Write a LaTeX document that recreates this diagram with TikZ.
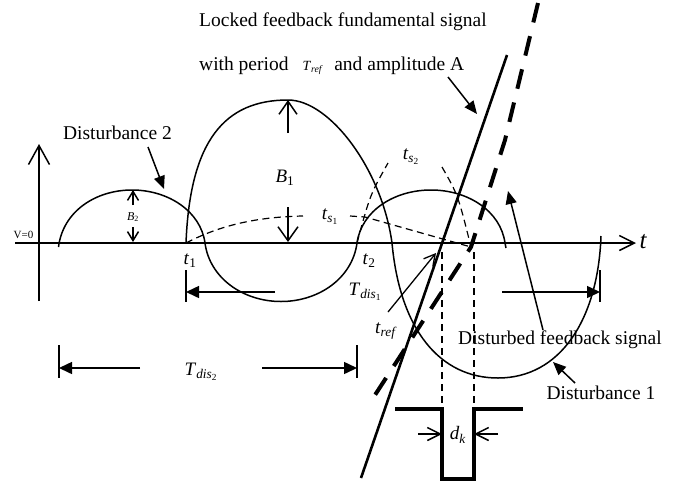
\documentclass[tikz,border=0pt]{standalone}
\usepackage{fontspec}
\setmainfont{Liberation Serif}
\usetikzlibrary{arrows.meta}

\tikzset{
  sig/.style={line width=1.5pt},
  hilf/.style={line width=1.2pt,dash pattern=on 7pt off 4.5pt},
  offen/.style={line width=1.5pt,-{Straight Barb[length=13pt,width=18pt]}},
  voll/.style={line width=1.5pt,-{Triangle[length=13pt,width=11pt]}},
  lbl/.style={font=\fontsize{19.5}{23}\selectfont,inner sep=0pt},
  var/.style={font=\fontsize{19}{19}\selectfont,inner sep=0pt}
}

\begin{document}
\begin{tikzpicture}[x=1pt,y=-1pt]
\useasboundingbox (0,0) rectangle (690,485);
% Achsen
\coordinate (Xa) at (15,243);
\coordinate (Xe) at (636,243);
\coordinate (Ya) at (39,301);
\coordinate (Ye) at (39,144);
\draw[sig,-{Straight Barb[length=15pt,width=15pt]}] (Xa) -- (Xe);
\draw[sig,-{Straight Barb[length=19pt,width=21pt]}] (Ya) -- (Ye);
% Nulldurchgaenge und Schnittpunkte
\coordinate (T1) at (186,243);
\coordinate (T2) at (357,243);
\coordinate (S1) at (442,243);
\coordinate (S2) at (471,247);
% Stoerung 2 (kleine Kurve, drei Boegen)
\draw[sig] (58.5,247) .. controls (63,211) and (96,190) .. (132,190)
  .. controls (168,190) and (200.6,211) .. (205,243)
  .. controls (209.6,278) and (243,301.5) .. (281,301.5)
  .. controls (319,301.5) and (352.4,278) .. (T2)
  .. controls (361.4,211) and (394,190) .. (431,190)
  .. controls (468,190) and (500.6,211) .. (505,243) -- (506,248);
% Stoerung 1 (grosse Kurve)
\draw[sig] (T1) .. controls (190,140) and (225,100) .. (288,100)
  .. controls (330,100) and (382,170) .. (392,243)
  .. controls (400,330) and (440,378) .. (498,378)
  .. controls (560,378) and (598,320) .. (601,236);
% Hilfslinien t_s1 und t_s2
\draw[hilf] (T1) .. controls (215,228) and (250,217) .. (303,216);
\draw[hilf] (350,216) -- (365,217) -- (S2);
\draw[hilf] (T2) .. controls (370,195) .. (388,163);
\draw[hilf] (442,167) .. controls (458,195) .. (S2);
% Referenzsignal (durchgezogen) und gestoertes Signal (gestrichelt)
\coordinate (Ra) at (507,55);
\coordinate (Re) at (361,478);
\draw[line width=2.6pt] (Ra) -- (Re);
\coordinate (Da) at (538,3);
\coordinate (De) at (375,395);
\draw[line width=4pt,dash pattern=on 20pt off 14.1pt]
  (Da) -- (505,140) -- (S2) -- (De);
% Impuls d_k
\coordinate (P1) at (442,409);
\coordinate (P2) at (474,409);
\draw[hilf,dash pattern=on 7pt off 5pt] (442,252) -- (P1);
\draw[hilf,dash pattern=on 7pt off 5pt] (474,252) -- (P2);
\draw[line width=3.5pt,line join=miter]
  (395,409) -- (P1) -- (442,479) -- (474,479) -- (P2) -- (523,409);
\coordinate (K1) at (418,434);
\coordinate (K2) at (498,434);
\draw[line width=1.5pt,-{Straight Barb[length=13pt,width=13pt]}] (K1) -- (442,434);
\draw[line width=1.5pt,-{Straight Barb[length=13pt,width=13pt]}] (K2) -- (474,434);
% Amplituden B1 und B2
\draw[offen] (288,133) -- (288,100);
\draw[offen,-{Straight Barb[length=14pt,width=20pt]}] (288,207) -- (288,242);
\draw[line width=1.5pt,-{Straight Barb[length=9pt,width=11pt]}] (133,205) -- (133,190);
\draw[line width=1.5pt,-{Straight Barb[length=9pt,width=11pt]}] (133,227) -- (133,242);
% Perioden T_dis1 und T_dis2
\draw[sig] (T1 |- 0,270) -- (T1 |- 0,302);
\draw[sig] (600,270) -- (600,302);
\draw[voll,-{Triangle[length=13pt,width=12pt]}] (275,292) -- (186,292);
\draw[voll,-{Triangle[length=13pt,width=12pt]}] (502,292) -- (600,292);
\draw[sig] (59,345) -- (59,378);
\draw[sig] (357,345) -- (357,378);
\draw[voll,-{Triangle[length=13pt,width=12pt]}] (140,368) -- (59,368);
\draw[voll,-{Triangle[length=13pt,width=12pt]}] (262,368) -- (357,368);
% Hinweispfeile
\draw[voll] (148,147) -- (164,189);
\draw[voll] (448,77) -- (477,114);
\draw[voll] (543,330) -- (508,191);
\draw[voll] (575,383) -- (553,362);
\draw[line width=1.3pt,-{Straight Barb[length=11pt,width=12pt]}] (388,312) -- (436,253);
% Beschriftungen
\node[font=\fontsize{25}{25}\selectfont\itshape,inner sep=0pt] (t) at (643,242) {t};
\node[font=\fontsize{11}{11}\selectfont,inner sep=0pt] (V0) at (23.5,235) {V=0};
\node[lbl,anchor=west] (zeile1) at (199,22) {Locked feedback fundamental signal};
\node[lbl,anchor=west] (zeile2) at (199,66) {with period\hspace{14pt}{\fontsize{14}{14}\selectfont\textit{T}\textsubscript{\textit{ref}}}\hspace{11pt}and amplitude A};
\node[lbl] (dist2) at (117.5,133) {Disturbance 2};
\node[lbl] (dist1) at (601,393) {Disturbance 1};
\node[lbl] (dfs) at (560,340) {Disturbed feedback signal};
\node[var] (lb1) at (285,178) {\textit{B}\textsubscript{1}};
\node[font=\fontsize{12}{12}\selectfont,inner sep=0pt] (lb2) at (133,217) {\textit{B}\textsubscript{2}};
\node[var] (lt1) at (190,261) {\textit{t}\textsubscript{1}};
\node[var] (lt2) at (369,261) {\textit{t}\textsubscript{2}};
\node[var] (lts1) at (330,217) {\textit{t}\textsubscript{\textit{s}\textsubscript{1}}};
\node[var] (lts2) at (411,157) {\textit{t}\textsubscript{\textit{s}\textsubscript{2}}};
\node[var] (ltref) at (386,331) {\textit{t}\textsubscript{\textit{ref}}};
\node[var] (ltd1) at (365,292) {\textit{T}\textsubscript{\textit{dis}\textsubscript{1}}};
\node[var] (ltd2) at (201,372) {\textit{T}\textsubscript{\textit{dis}\textsubscript{2}}};
\node[var] (ldk) at (458,435) {\textit{d}\textsubscript{\textit{k}}};
\end{tikzpicture}
\end{document}
